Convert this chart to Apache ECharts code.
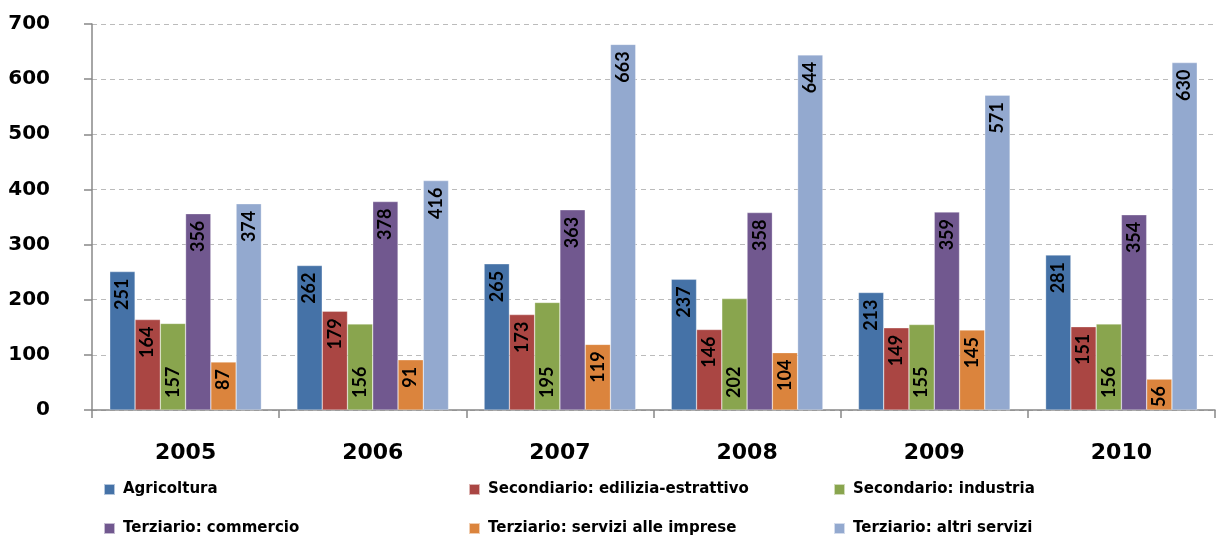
<!DOCTYPE html>
<html><head><meta charset="utf-8">
<script src="https://cdn.jsdelivr.net/npm/echarts@6/dist/echarts.min.js"></script>
<style>html,body{margin:0;padding:0;background:#fff}#c{width:1226px;height:536px}</style>
</head><body><div id="c"></div>
<script>
const categories = ['2005','2006','2007','2008','2009','2010'];
const seriesNames = ['Agricoltura','Secondiario: edilizia-estrattivo','Secondario: industria','Terziario: commercio','Terziario: servizi alle imprese','Terziario: altri servizi'];
const agricoltura = [251,262,265,237,213,281];
const edilizia = [164,179,173,146,149,151];
const industria = [157,156,195,202,155,156];
const commercio = [356,378,363,358,359,354];
const serviziImprese = [87,91,119,104,145,56];
const altriServizi = [374,416,663,644,571,630];
const yTicks = [0,100,200,300,400,500,600,700];

const values = [agricoltura, edilizia, industria, commercio, serviziImprese, altriServizi];
const colors = ['#4572A7','#AA4643','#89A54E','#71588F','#DB843D','#93A9CF'];
const WIDE = '"DejaVu Sans", sans-serif';
const NARROW = 'Lato, "Open Sans", sans-serif';

const series = seriesNames.map((n,i)=>{
  const bottom = (i===2);
  return {
    name:n, type:'bar', data:values[i], barGap:'0%', barCategoryGap:'19%',
    itemStyle:{color:colors[i], borderColor:'rgba(255,255,255,0.6)', borderWidth:0.5},
    label:{show:true, rotate:90, position: bottom?'insideBottom':'insideTop',
      align: bottom?'left':'right', verticalAlign:'middle', distance: bottom?12:7,
      color:'#000', fontWeight:'bold', fontSize:18, fontFamily:NARROW}
  };
});

const legendPos = [[103,482],[468,482],[833,482],[103,521],[468,521],[833,521]];
const legends = seriesNames.map((n,i)=>({
  data:[n], left:legendPos[i][0], top:legendPos[i][1], orient:'horizontal', padding:0,
  itemWidth:11, itemHeight:11, itemGap:0, icon:'rect',
  textStyle:{fontWeight:'bold', fontSize:15, color:'#000', fontFamily:WIDE, padding:[0,0,0,3]}
}));

const chart = echarts.init(document.getElementById('c'));
chart.setOption({
  animation:false,
  color:colors,
  grid:{left:92, right:11, top:24, bottom:126, containLabel:false},
  legend:legends,
  xAxis:{type:'category', data:categories,
    axisLine:{lineStyle:{color:'#888', width:1.5}},
    axisTick:{show:true, length:8, lineStyle:{color:'#888', width:1.5}},
    axisLabel:{margin:32, fontWeight:'bold', fontSize:22, color:'#000', fontFamily:WIDE}
  },
  yAxis:{type:'value', min:yTicks[0], max:yTicks[yTicks.length-1], interval:100,
    axisLine:{show:true, lineStyle:{color:'#888', width:1.5}},
    axisTick:{show:true, length:8, lineStyle:{color:'#888', width:1.5}},
    axisLabel:{margin:42, fontWeight:'bold', fontSize:20, color:'#000', fontFamily:WIDE},
    splitLine:{lineStyle:{color:'#bbb', type:[5,4], width:1.2}}
  },
  series:series
});
</script></body></html>
